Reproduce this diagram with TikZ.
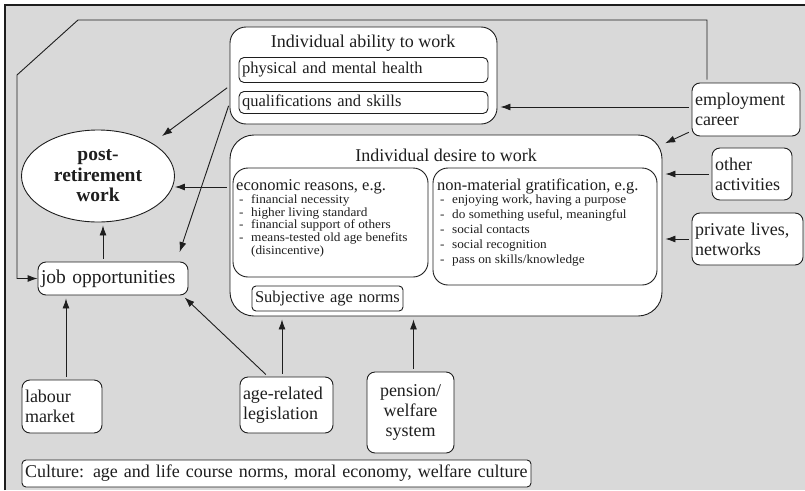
\documentclass[tikz,border=0pt]{standalone}
\usepackage{fontspec}
\setmainfont{Liberation Serif}
\newfontfamily\listfont[FakeStretch=1.06]{Liberation Serif}
\usetikzlibrary{arrows.meta,shapes.geometric}
\definecolor{bggray}{RGB}{217,217,217}
\definecolor{ink}{RGB}{30,30,30}
\newcommand{\itm}[1]{\makebox[12pt][l]{-}#1}
\newcommand{\bigtxt}{\fontsize{18}{20}\selectfont}
\newcommand{\midtxt}{\fontsize{16.5}{18}\selectfont}
\begin{document}
\begin{tikzpicture}[x=1pt,y=-1pt,
    box/.style={draw=ink,line width=0.9pt,fill=white,rounded corners=8pt,inner ysep=0pt,inner xsep=3pt,text=ink,font=\bigtxt},
    arr/.style={draw=ink,line width=0.9pt,-{Latex[length=10pt,width=7pt]},shorten <=3pt,shorten >=3pt}]
\useasboundingbox (0,0) rectangle (805,490);
\fill[bggray] (5,5) rectangle (805,490);
\draw[ink,line width=1.3pt] (5,490) -- (5,5) -- (805,5);

% ability and desire
\node[box,rounded corners=16pt,minimum width=267,minimum height=97] (abil) at (363.5,75.5) {};
\node[text=ink,font=\bigtxt,inner sep=0pt] (abiltitle) at (363,43) {Individual ability to work};
\node[box,rounded corners=5pt,text width=243,minimum height=25,align=left,font=\midtxt] (health) at (363.5,70) {physical and mental health};
\node[box,rounded corners=5pt,text width=243,minimum height=22,align=left,font=\midtxt] (skills) at (363.5,102.5) {qualifications and skills};

\node[box,rounded corners=24pt,minimum width=432,minimum height=181] (desire) at (446,225.5) {};
\node[text=ink,font=\bigtxt,inner sep=0pt] (desiretitle) at (446,155) {Individual desire to work};
\node[box,rounded corners=15pt,minimum width=195,minimum height=109] (econ) at (330.5,222.5) {};
\node[anchor=base west,text=ink,font=\midtxt,inner sep=0pt] (econhead) at (236,190) {economic reasons, e.g.};
\node[anchor=north west,align=left,text=ink,inner sep=0pt,font={\listfont\fontsize{12.5}{12.7}\selectfont}] (econlist) at (239,194.5)
  {\itm{financial necessity}\\ \itm{higher living standard}\\ \itm{financial support of others}\\
   \itm{means-tested old age benefits}\\ \hspace*{12pt}(disincentive)};
\node[box,rounded corners=15pt,minimum width=224,minimum height=117] (nonmat) at (545,226.5) {};
\node[anchor=base west,text=ink,font=\midtxt,inner sep=0pt] (nonmathead) at (437,190) {non-material gratification, e.g.};
\node[anchor=north west,align=left,text=ink,inner sep=0pt,font={\listfont\fontsize{12.5}{15}\selectfont}] (nonmatlist) at (440,195)
  {\itm{enjoying work, having a purpose}\\ \itm{do something useful, meaningful}\\ \itm{social contacts}\\
   \itm{social recognition}\\ \itm{pass on skills/knowledge}};
\node[box,rounded corners=4pt,text width=145,minimum height=25,align=left,font=\midtxt] (norms) at (327.5,298.5) {Subjective age norms};

% outcome
\node[draw=ink,line width=0.9pt,fill=white,ellipse,minimum width=153,minimum height=92,inner sep=0pt,
  align=center,text=ink,font=\fontsize{19.5}{20.5}\selectfont\bfseries] (post) at (98,176) {post-\\retirement\\work};
\node[box,text width=144,minimum height=33,align=left,font=\fontsize{19.5}{21}\selectfont] (job) at (113,278.5) {job opportunities};

% influences
\node[box,text width=102,minimum height=53,align=left] (employ) at (746,109.5) {employment\\career};
\node[box,text width=74,minimum height=52,align=left] (other) at (752,174) {other\\activities};
\node[box,text width=105,minimum height=52,align=left] (private) at (747.5,239) {private lives,\\networks};
\node[box,text width=74,minimum height=53,align=left] (labour) at (62,406.5) {labour\\market};
\node[box,text width=87,minimum height=56,align=left] (age) at (286.5,405) {age-related\\legislation};
\node[box,text width=81,minimum height=81,align=center] (pension) at (410.5,412.5) {pension/\\welfare\\system};
\node[box,rounded corners=4pt,text width=503,minimum height=27,align=left] (culture) at (276.5,473.5)
  {Culture: age and life course norms, moral economy, welfare culture};

% connectors
\coordinate (bendA) at (78,20);
\coordinate (bendB) at (17,75);
\draw[arr,shorten >=0pt] ([xshift=-39pt]employ.north) |- (bendA) -- (bendB) |- (job.west);
\draw[arr,shorten >=12pt] ([yshift=-10.5pt]abil.west) -- (post.north east);
\draw[arr,shorten >=10pt] ([yshift=-27.5pt]abil.west) -- ([xshift=-12pt]job.north east);
\draw[arr,shorten >=0pt] ([yshift=38.5pt]desire.west) -- ([yshift=38.5pt]desire.west -| post.east);
\draw[arr] ([xshift=-10pt]job.north) -- ([xshift=-10pt]job.north |- post.south);
\draw[arr] ([xshift=4pt]labour.north) -- ([xshift=4pt]labour.north |- job.south);
\draw[arr] ([xshift=-18.5pt]age.north) -- ([xshift=-6pt]job.south east);
\draw[arr] ([xshift=-4.5pt]age.north) -- ([xshift=-4.5pt]age.north |- desire.south);
\draw[arr] ([xshift=3pt]pension.north) -- ([xshift=3pt]pension.north |- desire.south);
\draw[arr] ([yshift=2.5pt]employ.west) -- ([yshift=2.5pt]employ.west -| abil.east);
\draw[arr] ([yshift=-21.5pt]employ.west) -- ([yshift=-10pt]desire.north east);
\draw[arr] (other.west) -- (other.west -| desire.east);
\draw[arr] (private.west) -- (private.west -| desire.east);
\end{tikzpicture}
\end{document}
